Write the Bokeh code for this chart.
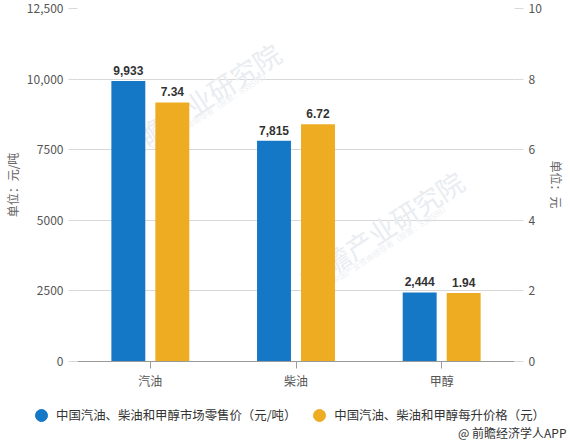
from bokeh.core.properties import value
from bokeh.embed import file_html
from bokeh.resources import INLINE
from bokeh.layouts import column, row
from bokeh.models import (ColumnDataSource, FactorRange, Range1d, LinearAxis, FixedTicker,
                          Label, Legend, LegendItem)
from bokeh.plotting import figure
from bokeh.transform import dodge

categories = ["汽油", "柴油", "甲醇"]
retail_price = [9933, 7815, 2444]
litre_price = [7.34, 6.72, 1.94]
retail_labels = ["9,933", "7,815", "2,444"]
litre_labels = ["7.34", "6.72", "1.94"]
left_ticks = [0, 2500, 5000, 7500, 10000, 12500]
left_tick_labels = {0: "0", 2500: "2500", 5000: "5000", 7500: "7500", 10000: "10,000", 12500: "12,500"}
right_ticks = [0, 2, 4, 6, 8, 10]
series_names = ["中国汽油、柴油和甲醇市场零售价（元/吨）", "中国汽油、柴油和甲醇每升价格（元）"]
left_title = "单位：元/吨"
right_title = "单位：元"
credit = "@ 前瞻经济学人APP"
watermark = "前瞻产业研究院"
watermark_sub = "中国产业咨询领导者（股票：839599）"

FONT = "Noto Sans CJK SC"
BLUE = "#1478c6"
ORANGE = "#eeac22"
W, H = 570, 444
MAIN_W, MAIN_H = 544, 392
FL, FB = 77, 361  # frame left / bottom

src = ColumnDataSource(dict(cat=categories, retail=retail_price, litre=litre_price,
                            rl=retail_labels, ll=litre_labels))

p = figure(width=MAIN_W, height=MAIN_H, output_backend="svg", toolbar_location=None,
           x_range=FactorRange(*categories, range_padding=0),
           y_range=Range1d(0, 12500),
           min_border_left=FL, min_border_right=30, min_border_top=8, min_border_bottom=MAIN_H - FB,
           outline_line_color=None, background_fill_color="white", border_fill_color="white")
p.extra_y_ranges = {"r": Range1d(0, 10)}

def frame_label(x, y, text, **kw):
    p.add_layout(Label(x=x - FL, y=FB - y, x_units="screen", y_units="screen", text=text,
                       text_font=FONT, **kw))

# faint watermarks
for (x, y), (sx, sy) in [((198, 101), (210, 110)), ((381, 229), (390, 243))]:
    frame_label(x, y, watermark, text_font_size="27px", text_color="#e9edf1",
                text_align="center", text_baseline="middle", angle=33, angle_units="deg",
                level="underlay")
    frame_label(sx, sy, watermark_sub, text_font_size="8px", text_color="#eef0f3",
                text_align="center", text_baseline="middle", angle=33, angle_units="deg",
                level="underlay")

offset = 0.151
w = 0.233
r1 = p.vbar(x=dodge("cat", -offset, range=p.x_range), top="retail", width=w, source=src,
            color=BLUE, line_color=None)
r2 = p.vbar(x=dodge("cat", offset, range=p.x_range), top="litre", width=w, source=src,
            color=ORANGE, line_color=None, y_range_name="r")

for col, txt, off, rng in [("retail", "rl", -offset, "default"), ("litre", "ll", offset, "r")]:
    p.text(x=dodge("cat", off, range=p.x_range), y=col, text=txt, source=src,
           y_range_name=rng, y_offset=-6, text_align="center", text_baseline="bottom",
           text_font=value("Liberation Sans"), text_font_style="bold", text_font_size="12px",
           text_color="#333333")

# axes
def style_y(a):
    a.axis_line_color = None
    a.major_tick_line_color = "#d8d8d8"
    a.major_tick_out = 9
    a.major_tick_in = 0
    a.minor_tick_line_color = None
    a.major_label_text_font = FONT
    a.major_label_text_font_size = "12px"
    a.major_label_text_color = "#555555"
    a.major_label_standoff = 5

ya = p.yaxis[0]
ya.ticker = FixedTicker(ticks=left_ticks)
ya.major_label_overrides = left_tick_labels
style_y(ya)
ya.axis_label = left_title
ya.axis_label_text_font = FONT
ya.axis_label_text_font_size = "12px"
ya.axis_label_text_font_style = "normal"
ya.axis_label_text_color = "#666666"
ya.axis_label_standoff = 3

ra = LinearAxis(y_range_name="r", ticker=FixedTicker(ticks=right_ticks))
style_y(ra)
p.add_layout(ra, "right")

xa = p.xaxis[0]
xa.axis_line_color = "#9a9a9a"
xa.major_tick_line_color = "#9a9a9a"
xa.major_tick_out = 7
xa.major_tick_in = 0
xa.minor_tick_line_color = None
xa.major_label_text_font = FONT
xa.major_label_text_font_size = "12px"
xa.major_label_text_color = "#555555"
xa.major_label_standoff = 3

p.xgrid.visible = False
p.ygrid.ticker = FixedTicker(ticks=left_ticks)
p.ygrid.grid_line_color = "#d8d8d8"

def strip(width, height):
    f = figure(width=width, height=height, output_backend="svg", toolbar_location=None,
               x_axis_type=None, y_axis_type=None, x_range=Range1d(0, width), y_range=Range1d(0, height),
               min_border=0, outline_line_color=None, background_fill_color="white",
               border_fill_color="white")
    f.grid.visible = False
    return f

# right axis title
rs = strip(W - MAIN_W, MAIN_H)
rs.add_layout(Label(x=12, y=MAIN_H - 215, x_units="screen", y_units="screen", text=right_title,
                    text_font=FONT, text_font_size="12px", text_color="#666666",
                    text_align="center", text_baseline="middle", angle=-90, angle_units="deg"))

# legend and credit
bs = strip(W, H - MAIN_H)
s1 = bs.scatter(x=[0], y=[float("nan")], marker="circle", color=BLUE)
s2 = bs.scatter(x=[0], y=[float("nan")], marker="circle", color=ORANGE)
legend = Legend(items=[LegendItem(label=series_names[0], renderers=[s1]),
                       LegendItem(label=series_names[1], renderers=[s2])],
                orientation="horizontal", location=(26, 14), border_line_color=None,
                background_fill_alpha=0, label_text_font=FONT, label_text_font_size="12.4px",
                label_text_color="#333333", glyph_width=30, glyph_height=30, spacing=8,
                padding=0, margin=0, label_standoff=-3)
bs.add_layout(legend, "center")
bs.add_layout(Label(x=566, y=12, x_units="screen", y_units="screen", text=credit,
                    text_font=FONT, text_font_size="12px", text_color="#333333",
                    text_align="right", text_baseline="middle"))

page = column(row(p, rs, spacing=0), bs, spacing=0)
open("out.html", "w").write(file_html(page, INLINE))
